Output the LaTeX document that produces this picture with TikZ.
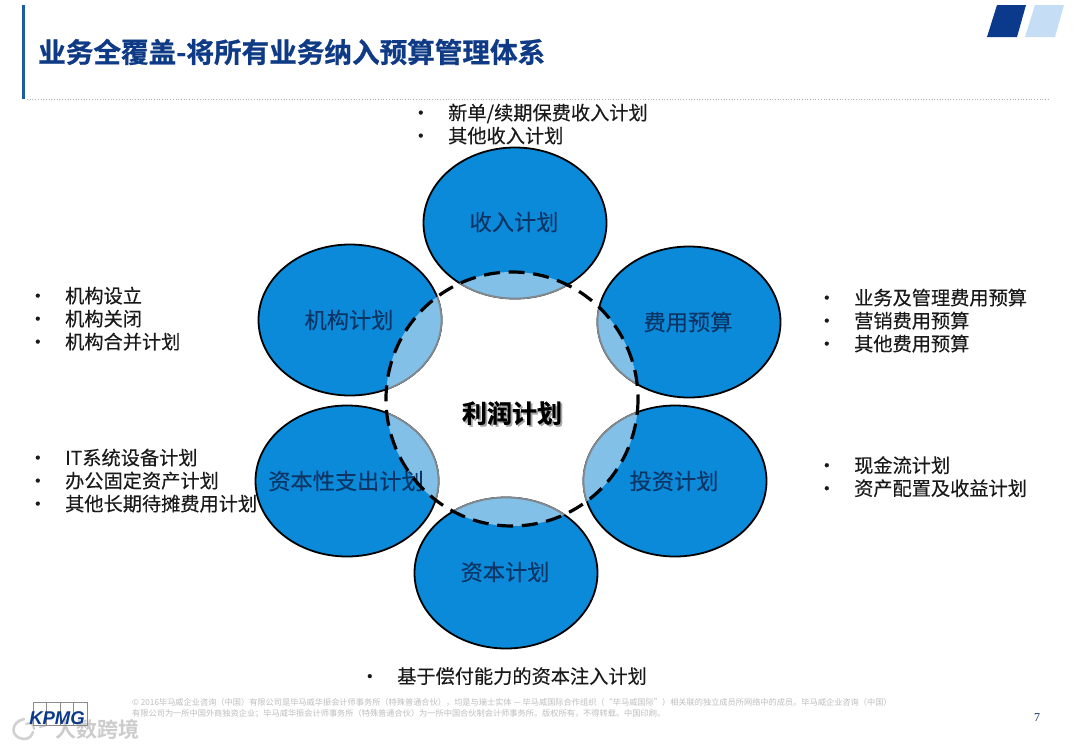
\documentclass[tikz,border=0pt]{standalone}
\usepackage{fontspec}
\setmainfont{Noto Sans CJK SC}
\newfontfamily\cjkbold{Noto Sans CJK SC Bold}
\newfontfamily\cjkheavy[FakeBold=0.8]{Noto Sans CJK SC Bold}
\newfontfamily\cjkmid[FakeBold=0.25]{Noto Sans CJK SC}
\newfontfamily\numfont{Liberation Serif}
\newfontfamily\logofont{Liberation Sans}
\usetikzlibrary{calc}
\definecolor{kblue}{HTML}{0A8AD8}
\definecolor{klens}{HTML}{82C0E8}
\definecolor{kring}{HTML}{808890}
\definecolor{ktitle}{HTML}{0E3A86}
\definecolor{kbar}{HTML}{1B5FA0}
\definecolor{klabel}{HTML}{0C3566}
\definecolor{kdark}{HTML}{0B3A8C}
\definecolor{kpale}{HTML}{C5DDF5}
\definecolor{ktext}{HTML}{1A1A1A}
\definecolor{kfoot}{HTML}{BEBEBE}
\tikzset{
  x=1pt,y=-1pt,
  petal/.style={ellipse,inner sep=0pt},
  plabel/.style={text=klabel,font=\fontsize{22.2}{22}\selectfont\cjkmid,inner sep=0pt},
  blist/.style={text=ktext,font=\fontsize{19.2}{23}\selectfont\cjkmid,inner sep=0pt,anchor=north west,align=left},
}
\newcommand{\petalshape}[1]{(#1) ellipse [x radius=91.5,y radius=75.5]}
\newcommand{\blt}{\makebox[32pt][l]{\hspace{-5pt}\textbullet}}
\begin{document}
\begin{tikzpicture}
\useasboundingbox (0,0) rectangle (1080,748);
\fill[white] (0,0) rectangle (1080,748);
% header
\coordinate (barT) at (23,5);
\coordinate (barB) at (23,99);
\draw[kbar,line width=3pt] (barT) -- (barB);
\coordinate (ruleL) at (27,99);
\coordinate (ruleR) at (1050,99);
\draw[black!30,line width=0.7pt,dotted] (ruleL) -- (ruleR);
\node[anchor=west,inner sep=0pt,text=ktitle,font=\fontsize{27.6}{27}\selectfont\cjkheavy] (title) at (38,52) {业务全覆盖-将所有业务纳入预算管理体系};
\fill[kdark] (987,37) -- (997,5) -- (1026,5) -- (1017,37) -- cycle;
\fill[kpale] (1025,37) -- (1035,5) -- (1064,5) -- (1055,37) -- cycle;
% centres
\coordinate (cA) at (515,223);
\coordinate (cB) at (689,322);
\coordinate (cC) at (675,481);
\coordinate (cD) at (506,573);
\coordinate (cE) at (347,481);
\coordinate (cF) at (350,320);
\coordinate (cM) at (512,399);
% petals
\foreach \c in {cA,cB,cC,cD,cE,cF}{
  \fill[kblue] \petalshape{\c};
  \draw[black,line width=1.8pt] \petalshape{\c};
}
% lenses
\foreach \c in {cA,cB,cC,cD,cE,cF}{
  \begin{scope}
    \clip (cM) ellipse [x radius=126,y radius=127];
    \fill[klens] \petalshape{\c};
    \draw[kring,line width=1.8pt] \petalshape{\c};
  \end{scope}
}
% labels
\node[plabel] (lA) at (514,222) {收入计划};
\node[plabel] (lB) at (688,322) {费用预算};
\node[plabel] (lC) at (674,481) {投资计划};
\node[plabel] (lD) at (505,572) {资本计划};
\node[plabel] (lE) at (346,481) {资本性支出计划};
\node[plabel] (lF) at (349,320) {机构计划};
% ring
\draw[black,line width=3.2pt,dash pattern=on 16pt off 8.7pt] (cM) ellipse [x radius=126,y radius=127];
\node[inner sep=0pt,font=\fontsize{25}{25}\selectfont\cjkheavy] (centre) at (512,414) {\rlap{\raisebox{-1.8pt}{\hspace{1.8pt}\textcolor{black!35}{利润计划}}}利润计划};
% lists
\node[blist] (tA) at (416,103.5) {\blt 新单/续期保费收入计划\\\blt 其他收入计划};
\node[blist] (tB) at (822,288.5) {\blt 业务及管理费用预算\\\blt 营销费用预算\\\blt 其他费用预算};
\node[blist] (tC) at (822,456) {\blt 现金流计划\\\blt 资产配置及收益计划};
\node[blist] (tD) at (365,667) {\blt 基于偿付能力的资本注入计划};
\node[blist] (tE) at (33,448.5) {\blt IT系统设备计划\\\blt 办公固定资产计划\\\blt 其他长期待摊费用计划};
\node[blist] (tF) at (33,286.5) {\blt 机构设立\\\blt 机构关闭\\\blt 机构合并计划};
% footer
\node[anchor=north west,inner sep=0pt,text=kfoot,font=\fontsize{8.2}{11.5}\selectfont,align=left] (foot) at (132,698) {© 2016毕马威企业咨询（中国）有限公司是毕马威华振会计师事务所（特殊普通合伙），均是与瑞士实体 — 毕马威国际合作组织（“毕马威国际”）相关联的独立成员所网络中的成员。毕马威企业咨询（中国）\\有限公司为一所中国外商独资企业；毕马威华振会计师事务所（特殊普通合伙）为一所中国合伙制会计师事务所。版权所有，不得转载。中国印刷。};
\node[inner sep=0pt,text=klabel,font=\fontsize{12}{12}\selectfont\numfont] (pg) at (1037,718) {7};
% watermark
\node[inner sep=0pt,text=black!20,font=\fontsize{21}{21}\selectfont\cjkbold] (wm) at (98,729) {人数跨境};
\draw[black!18,line width=2.6pt,line cap=round] (24,719) .. controls (10,722) and (10,738) .. (24,739) .. controls (30,739) and (32,735) .. (33,732);
\draw[black!18,line width=2.2pt,line cap=round] (26,724) .. controls (30,722) and (34,724) .. (34,729);
\draw[black!18,line width=2.2pt,line cap=round] (40,727) -- (46,725);
% KPMG logo
\foreach \x in {33,46.5,60,73.5}{\draw[black!45,line width=0.5pt] (\x,702) rectangle ++(13.5,23);}
\node[inner sep=0pt,text=kdark,font=\fontsize{18.5}{18}\selectfont\logofont\bfseries\itshape] (logo) at (57,718) {KPMG};
\end{tikzpicture}
\end{document}
